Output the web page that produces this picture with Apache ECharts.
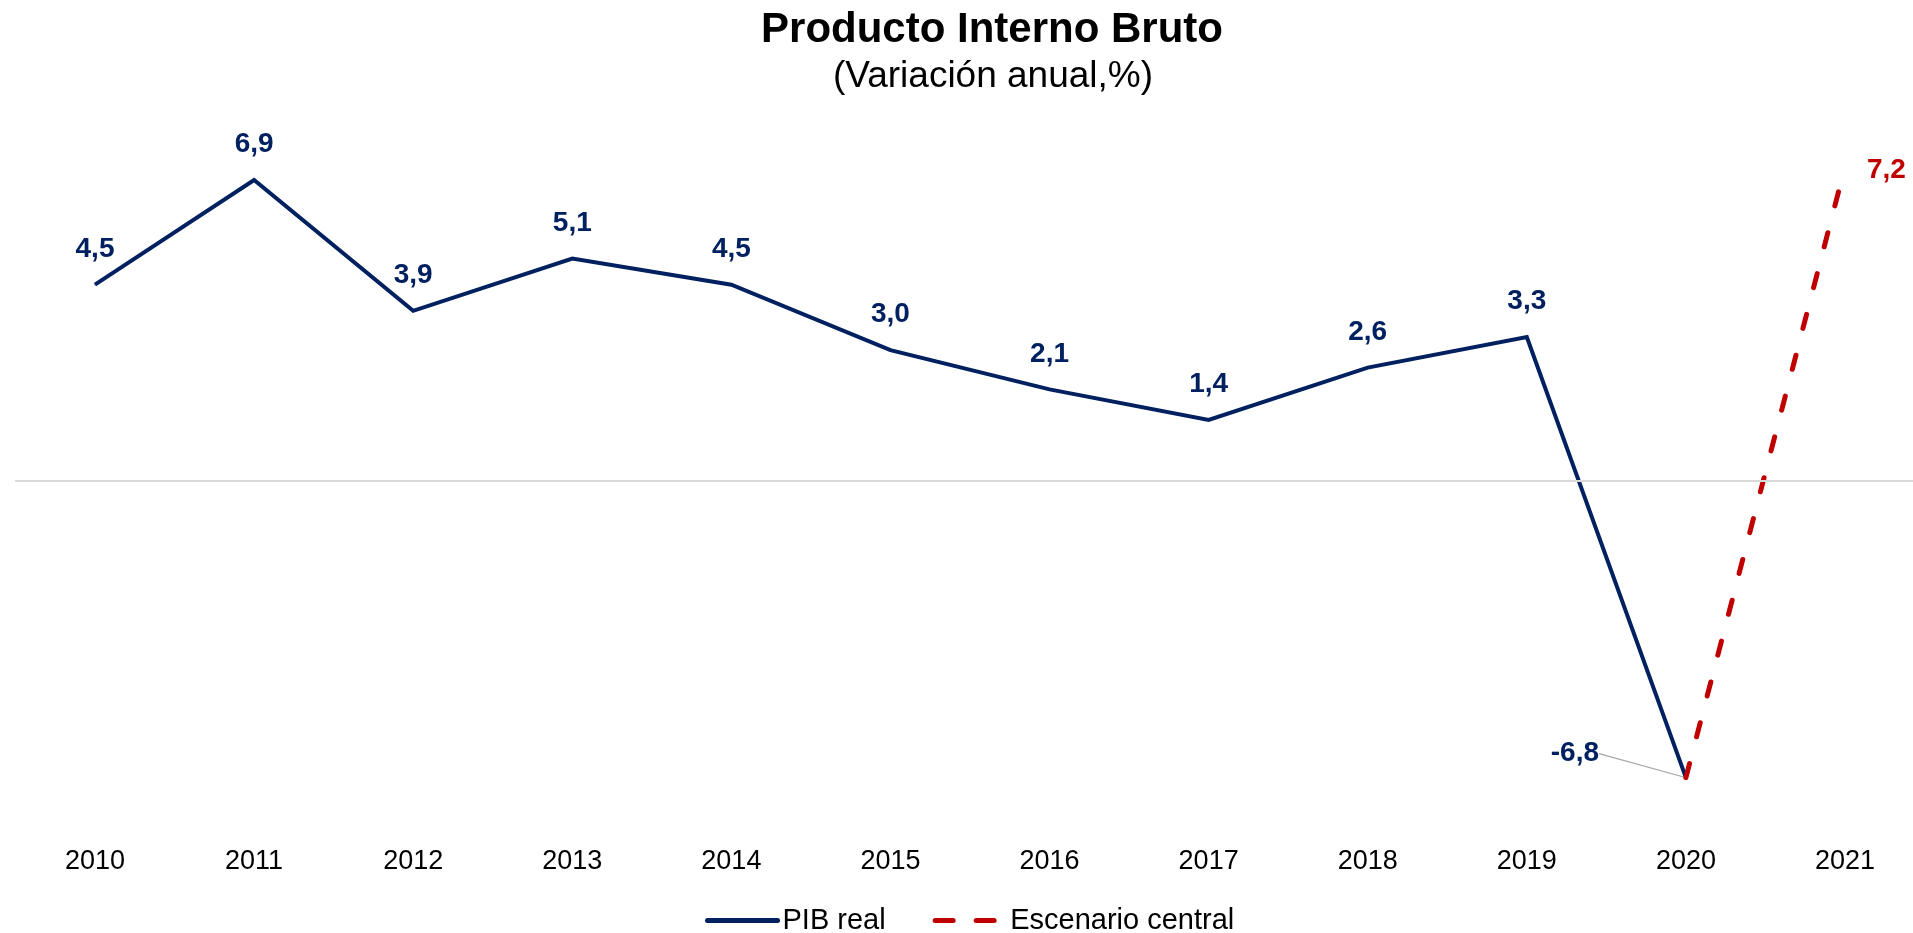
<!DOCTYPE html>
<html>
<head>
<meta charset="utf-8">
<script src="https://cdn.jsdelivr.net/npm/echarts@6/dist/echarts.min.js"></script>
<style>
html,body{margin:0;padding:0;background:#fff;}
#chart{width:1913px;height:933px;}
</style>
</head>
<body>
<div id="chart"></div>
<script>
const years = ['2010','2011','2012','2013','2014','2015','2016','2017','2018','2019','2020','2021'];
const pibReal = [4.5, 6.9, 3.9, 5.1, 4.5, 3.0, 2.1, 1.4, 2.6, 3.3, -6.8, null];
const escenarioCentral = [null, null, null, null, null, null, null, null, null, null, -6.8, 7.2];
const titleText = 'Producto Interno Bruto';
const subtitleText = '(Variación anual,%)';
const seriesNames = ['PIB real', 'Escenario central'];

const NAVY = '#002060';
const RED = '#c00000';
const FONT = '"Liberation Sans", Arial, sans-serif';

const fmt = v => v.toFixed(1).replace('.', ',');
const CALLOUT_INDEX = 10;

const blueData = pibReal.map((v, i) => {
  if (v === null) return null;
  if (i === CALLOUT_INDEX) {
    return {
      value: v,
      labelLine: { show: true, lineStyle: { color: '#a6a6a6', width: 1.2 } }
    };
  }
  return v;
});
const redData = escenarioCentral.map((v, i) => {
  if (v === null) return null;
  if (i === 11) {
    return { value: v, label: { show: true, position: 'right', distance: 22, offset: [0, 3] } };
  }
  return { value: v, label: { show: false } };
});

const chart = echarts.init(document.getElementById('chart'));
chart.setOption({
  backgroundColor: '#ffffff',
  animation: false,
  graphic: [
    { type: 'text', x: 992, y: 30, style: { text: titleText, x: 0, y: 0, textAlign: 'center', textVerticalAlign: 'middle', font: 'bold 42px ' + FONT, fill: '#000' } },
    { type: 'text', x: 993, y: 77, style: { text: subtitleText, x: 0, y: 0, textAlign: 'center', textVerticalAlign: 'middle', font: '37px ' + FONT, fill: '#000' } }
  ],
  legend: {
    left: 700,
    top: 901,
    itemWidth: 70,
    itemHeight: 14,
    itemGap: 47,
    textStyle: { fontFamily: FONT, fontSize: 29, color: '#000' },
    itemStyle: { opacity: 0 },
    data: [
      { name: seriesNames[0], lineStyle: { width: 5, cap: 'round', color: NAVY } },
      { name: seriesNames[1], lineStyle: { width: 5, cap: 'round', color: RED, type: [18, 23] } }
    ]
  },
  grid: [
    { left: 95, right: 68, top: 132, height: 698, containLabel: false },
    { left: 15, right: 0, top: 132, height: 698, containLabel: false }
  ],
  xAxis: [
    {
      type: 'category',
      gridIndex: 0,
      data: years,
      boundaryGap: false,
      axisLine: { show: false },
      axisTick: { show: false },
      axisLabel: { fontFamily: FONT, fontSize: 27, color: '#000', margin: 18, interval: 0 },
      splitLine: { show: false }
    },
    { type: 'value', gridIndex: 1, min: 0, max: 1, show: false, splitLine: { show: false } }
  ],
  yAxis: [
    { type: 'value', gridIndex: 0, min: -8, max: 8, interval: 8, show: false, splitLine: { show: false } },
    { type: 'value', gridIndex: 1, min: -8, max: 8, interval: 8, show: false, splitLine: { show: false } }
  ],
  series: [
    {
      name: 'zero',
      type: 'line',
      xAxisIndex: 1,
      yAxisIndex: 1,
      data: [],
      silent: true,
      z: 1,
      markLine: {
        silent: true,
        symbol: 'none',
        animation: false,
        label: { show: false },
        lineStyle: { color: '#d9d9d9', width: 2, type: 'solid' },
        data: [{ yAxis: 0 }]
      }
    },
    {
      name: seriesNames[0],
      type: 'line',
      data: blueData,
      symbol: 'circle',
      symbolSize: 1,
      showSymbol: true,
      itemStyle: { color: NAVY },
      lineStyle: { color: NAVY, width: 4, join: 'miter' },
      label: {
        show: true,
        position: 'top',
        distance: 21,
        formatter: p => fmt(p.value),
        fontFamily: FONT,
        fontSize: 28,
        fontWeight: 'bold',
        color: NAVY
      },
      labelLayout: function (params) {
        if (params.dataIndex !== CALLOUT_INDEX) return {};
        const px = params.rect.x + params.rect.width / 2;
        const py = params.rect.y + params.rect.height / 2;
        const w = params.labelRect.width;
        const cx = px - 111;
        const cy = py - 24;
        const right = cx + w / 2;
        return {
          x: cx, y: cy, align: 'center', verticalAlign: 'middle',
          labelLinePoints: [[right + 10, cy], [right + 22, cy], [px, py]]
        };
      },
      z: 3
    },
    {
      name: seriesNames[1],
      type: 'line',
      data: redData,
      symbol: 'circle',
      symbolSize: 0.001,
      showSymbol: true,
      itemStyle: { color: RED },
      lineStyle: { color: RED, width: 5, type: [14.5, 27.7], cap: 'round' },
      label: {
        show: true,
        formatter: p => fmt(p.value),
        fontFamily: FONT,
        fontSize: 28,
        fontWeight: 'bold',
        color: RED
      },
      z: 4
    }
  ]
});
</script>
</body>
</html>
